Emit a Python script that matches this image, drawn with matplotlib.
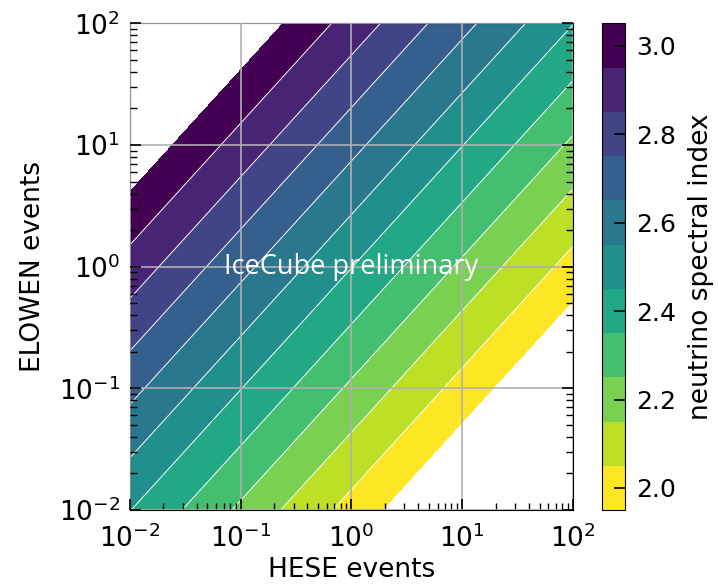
import numpy as np
import matplotlib.pyplot as plt

# spectral-index band edges and where they sit in log10(ELOWEN / HESE)
index_edges = [1.95, 2.05, 2.15, 2.25, 2.35, 2.45, 2.55, 2.65, 2.75, 2.85, 2.95, 3.05]
log_ratio_at_edge = [-2.28, -1.83, -1.36, -0.92, -0.47, -0.01, 0.43, 0.87, 1.31, 1.74, 2.18, 2.62]

cbar_ticks = [2.0, 2.2, 2.4, 2.6, 2.8, 3.0]
axis_range = (1e-2, 1e2)

# event-count grid
hese = np.logspace(-2, 2, 400)
elowen = np.logspace(-2, 2, 400)
H, E = np.meshgrid(hese, elowen)
log_ratio = np.log10(E / H)
# outside the covered range -> values beyond the level range, left blank
gamma = np.interp(log_ratio, log_ratio_at_edge, index_edges, left=1.8, right=3.2)

fig = plt.figure(figsize=(7.18, 5.85), dpi=100)
ax = fig.add_axes([0.181, 0.128, 0.617, 0.832])
cax = fig.add_axes([0.838, 0.128, 0.032, 0.832])

cf = ax.contourf(H, E, gamma, levels=index_edges, cmap="viridis_r", vmin=2.0, vmax=3.0)
ax.contour(H, E, gamma, levels=index_edges[1:-1], colors="white", linewidths=0.7)

ax.set_xscale("log")
ax.set_yscale("log")
ax.set_xlim(*axis_range)
ax.set_ylim(*axis_range)
ax.grid(True, which="major", color="#b0b0b0", linewidth=1.2)
ax.set_axisbelow(False)
ax.tick_params(which="both", direction="in", left=True, right=True, bottom=True, top=False,
               labelsize=19)
ax.tick_params(which="major", length=8, width=1.2)
ax.tick_params(which="minor", length=5, width=1.0)
ax.tick_params(axis="x", which="both", pad=10)
ax.tick_params(axis="y", which="both", pad=7)
ax.set_xlabel("HESE events", fontsize=19, labelpad=3)
ax.set_ylabel("ELOWEN events", fontsize=19, labelpad=9)

ax.text(1.0, 1.0, "IceCube preliminary", color="white", fontsize=19.5,
        family="Open Sans", ha="center", va="center")

cb = fig.colorbar(cf, cax=cax, ticks=cbar_ticks)
cb.ax.tick_params(direction="in", length=8, width=1.2, labelsize=18, pad=8)
cb.set_label("neutrino spectral index", fontsize=19, labelpad=9)

fig.savefig("out.png", dpi=100)
